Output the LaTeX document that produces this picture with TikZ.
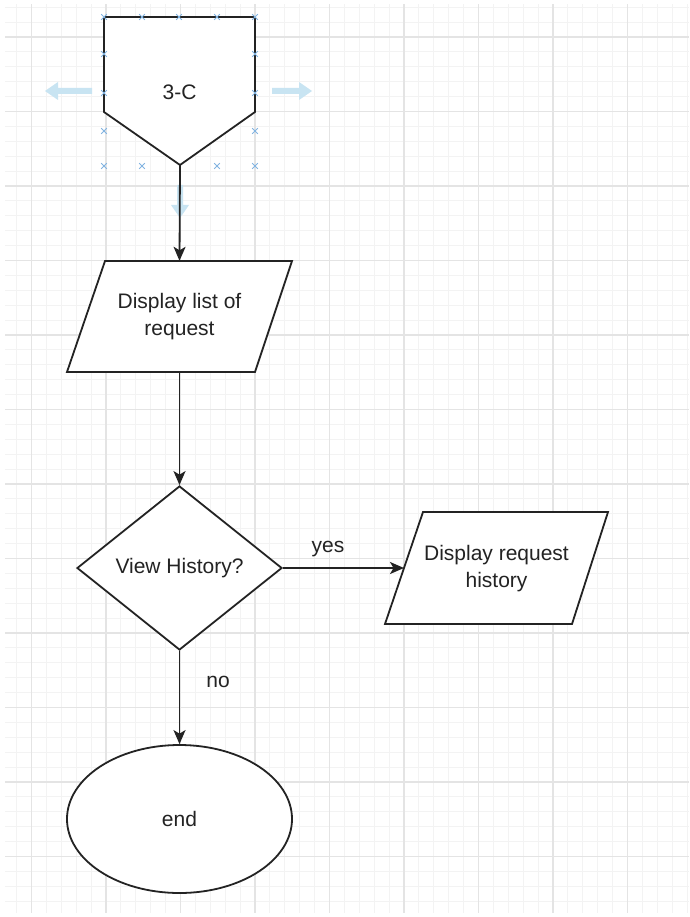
\documentclass[tikz,border=0pt]{standalone}
\usepackage{fontspec}
\setmainfont{Liberation Sans}
\usetikzlibrary{shapes.geometric,arrows.meta,calc}
\definecolor{gridminor}{RGB}{243,243,243}
\definecolor{gridmajor}{RGB}{228,228,228}
\definecolor{ink}{RGB}{35,35,35}
\definecolor{handle}{RGB}{130,180,225}
\definecolor{hover}{RGB}{200,228,242}

\begin{document}
\begin{tikzpicture}[x=1pt,y=-1pt,
  shape line/.style={draw=ink,line width=1.8pt,fill=white,line join=miter},
  label text/.style={font=\fontsize{21}{27}\selectfont,text=ink,align=center,inner sep=0pt},
  flow/.style={draw=ink,line width=1.8pt,-{Stealth[length=14pt,width=12pt,inset=3.5pt]}},
  gripmark/.pic={\draw[handle,line width=1pt] (-2.8,-2.8) -- (2.8,2.8) (-2.8,2.8) -- (2.8,-2.8);},
  hoverarrow/.style={fill=hover,draw=none},
]
\useasboundingbox (0,0) rectangle (689,917);
\fill[white] (0,0) rectangle (689,917);

% background grid
\begin{scope}
  \clip (5,5) rectangle (689,912);
  \foreach \i in {-2,...,45}
    \draw[gridminor,line width=0.9pt] ({31.5+14.9*\i},0) -- ({31.5+14.9*\i},917);
  \foreach \j in {-2,...,59}
    \draw[gridminor,line width=0.9pt] (0,{37+14.9*\j}) -- (689,{37+14.9*\j});
  \foreach \i in {0,...,8}
    \draw[gridmajor,line width=1.1pt] ({31.5+74.5*\i},0) -- ({31.5+74.5*\i},917);
  \foreach \j in {0,...,11}
    \draw[gridmajor,line width=1.1pt] (0,{37+74.5*\j}) -- (689,{37+74.5*\j});
\end{scope}

% hover arrows around the selected connector
\path[hoverarrow] (45,91) -- (58,82) -- (58,88) -- (92,88) -- (92,94) -- (58,94) -- (58,100) -- cycle;
\path[hoverarrow] (312,91) -- (299,82) -- (299,88) -- (272,88) -- (272,94) -- (299,94) -- (299,100) -- cycle;
\path[hoverarrow] (180,218) -- (171,205) -- (177,205) -- (177,185) -- (183,185) -- (183,205) -- (189,205) -- cycle;

% off-page connector
\draw[shape line] (104,17) -- (255,17) -- (255,112) -- (180,165) -- (104,112) -- cycle;
\node[label text] (conn) at (179.5,92) {3-C};
\coordinate (connTip) at (180,165);

% input/output: list of requests
\draw[shape line] (105,261) -- (292,261) -- (255,372) -- (67,372) -- cycle;
\node[label text,minimum width=150,minimum height=111] (list) at (179.5,316.5) {Display list of\\request};

% decision
\node[shape line,diamond,minimum width=205,minimum height=164,label text] (ask) at (179.5,568) {View History?};

% input/output: request history
\draw[shape line] (423,512) -- (608,512) -- (572,624) -- (385,624) -- cycle;
\node[label text,minimum width=150,minimum height=112] (hist) at (496.5,569) {Display request\\history};
\coordinate (histIn) at (404,568);

% terminator
\node[shape line,ellipse,minimum width=225,minimum height=148,label text] (stop) at (179.5,819) {end};

% connectors
\draw[flow] (connTip) -- (list.north);
\draw[flow] (list.south) -- (ask.north);
\draw[flow] (ask.east) -- (histIn);
\draw[flow] (ask.south) -- (stop.north);
\node[label text] (yes) at (328,549) {yes};
\node[label text] (no) at (218,682) {no};

% selection handles of the off-page connector
\foreach \p in {(104,17),(142,17),(179,17),(217,17),(255,17),
                (104,54),(104,93),(255,54),(255,93),
                (104,131),(255,131),
                (104,166),(142,166),(217,166),(255,166)}
  \pic at \p {gripmark};
\end{tikzpicture}
\end{document}
